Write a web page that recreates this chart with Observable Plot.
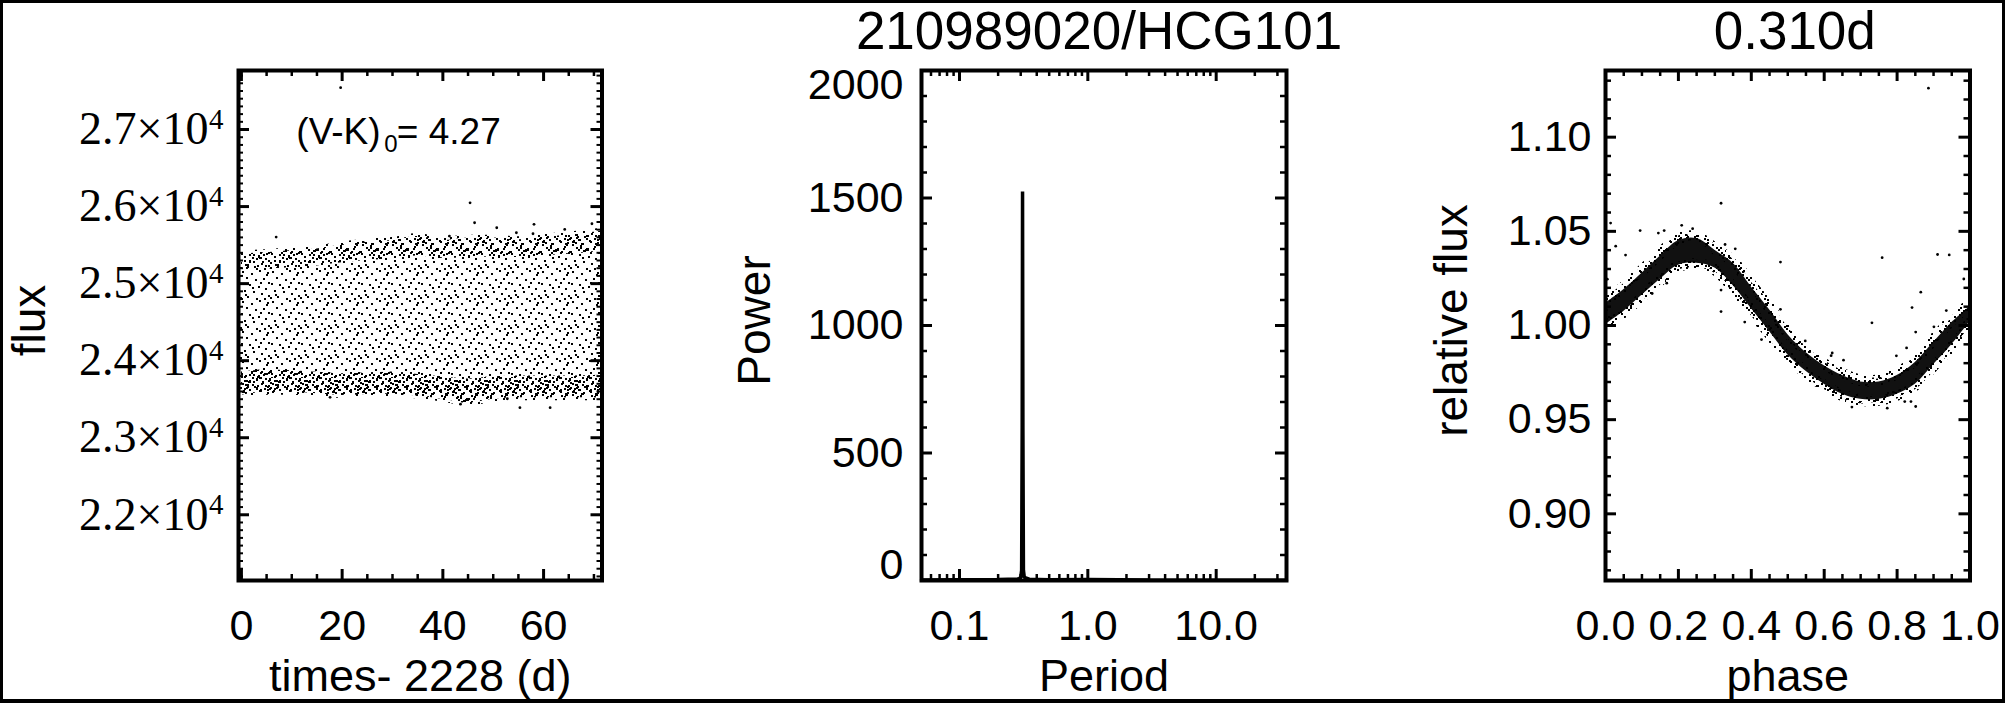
<!DOCTYPE html>
<html>
<head>
<meta charset="utf-8">
<script src="https://cdn.jsdelivr.net/npm/d3@7"></script>
<script src="https://cdn.jsdelivr.net/npm/@observablehq/plot@0.6"></script>
<style>
  html, body { margin: 0; padding: 0; background: #fff; }
  #wrap { position: relative; width: 2005px; height: 703px; overflow: hidden; background: #fff; }
  #wrap > svg.plot { position: absolute; left: 0; top: 0; }
  #border { position: absolute; left: 0; top: 0; width: 2005px; height: 703px; box-sizing: border-box;
            border: 3px solid #000; border-bottom-width: 4px; pointer-events: none; z-index: 10; }
</style>
</head>
<body>
<div id="wrap">
  <svg id="defs" width="0" height="0" style="position:absolute;left:0;top:0"></svg>
  <div id="border"></div>
</div>
<script>
// ---------------- DATA ----------------
// Panel 1: light curve, flux vs (time - 2228 d). The dense scatter band is described by its
// envelopes (outer edges and the inner edges of the dense stripes).
const lcTime      = [0, 5, 10, 15, 20, 25, 30, 35, 40, 45, 50, 55, 60, 65, 71.6];
const lcTop       = [25390, 25400, 25430, 25450, 25500, 25540, 25560, 25610, 25560, 25590, 25590, 25570, 25600, 25630, 25680];
const lcTopDense  = [25180, 25190, 25210, 25230, 25270, 25300, 25320, 25360, 25330, 25340, 25350, 25340, 25360, 25380, 25420];
const lcBotDense  = [23850, 23880, 23870, 23850, 23830, 23840, 23850, 23820, 23790, 23760, 23790, 23800, 23800, 23800, 23810];
const lcBot       = [23550, 23590, 23590, 23570, 23550, 23560, 23565, 23540, 23500, 23450, 23500, 23520, 23520, 23520, 23520];
const lcOutT      = [19.7, 45.4, 46.3, 6.9, 50.7, 54.6, 58.1, 41.3, 64.2, 69.6, 57.9, 55.3, 61.3, 43.5, 52.8, 17.6];
const lcOutFlux   = [27543, 26049, 25790, 25604, 25725, 25660, 25769, 25617, 25704, 25777, 25647, 23390, 23390, 23436, 23506, 23524];
const timeTicks   = [0, 20, 40, 60];
const fluxTicks   = [22000, 23000, 24000, 25000, 26000, 27000];

// Panel 2: periodogram (power vs period, log axis)
const pgPeriod = [0.0506, 0.1, 0.2, 0.29, 0.300, 0.305, 0.308, 0.310, 0.312, 0.315, 0.32, 0.35, 0.5, 1.0, 3, 10, 35.3];
const pgPower  = [2, 3, 4, 6, 12, 40, 600, 1525, 600, 40, 12, 5, 3, 4, 2, 1, 1];
const periodTicks = [0.1, 1, 10];
const powerTicks  = [500, 1000, 1500];

// Panel 3: phase-folded light curve (relative flux vs phase)
const phBand = [0, 0.05, 0.1, 0.15, 0.2, 0.25, 0.3, 0.35, 0.4, 0.45, 0.5, 0.55, 0.6, 0.65, 0.7, 0.75, 0.8, 0.85, 0.9, 0.95, 1.0];
const phLow  = [1.0005, 1.0075, 1.0160, 1.0245, 1.0320, 1.0330, 1.0305, 1.0212, 1.0090, 0.9968, 0.9845, 0.9757, 0.9688, 0.9635, 0.9608, 0.9608, 0.9635, 0.9688, 0.9792, 0.9898, 1.0020];
const phHigh = [1.0118, 1.0190, 1.0278, 1.0368, 1.0450, 1.0462, 1.0400, 1.0330, 1.0205, 1.0084, 0.9952, 0.9856, 0.9786, 0.9734, 0.9700, 0.9700, 0.9734, 0.9804, 0.9910, 1.0015, 1.0100];
const phOutPhase = [0.014, 0.028, 0.055, 0.095, 0.145, 0.161, 0.128, 0.168, 0.209, 0.239, 0.317, 0.328, 0.356, 0.317, 0.317, 0.382, 0.428, 0.480, 0.480, 0.653, 0.622, 0.731, 0.759, 0.841, 0.851, 0.865, 0.911, 0.943, 0.983, 0.935, 0.901, 0.826, 0.798, 0.676, 0.773, 0.851, 0.619, 0.548, 0.886, 0.821, 0.838, 0.005];
const phOutFlux  = [1.0544, 1.0421, 1.0374, 1.0504, 1.0491, 1.0504, 1.0170, 1.0225, 1.0532, 1.0514, 1.0649, 1.0430, 1.0407, 1.0074, 1.0188, 1.0018, 0.9925, 1.0337, 1.0086, 0.9816, 0.9854, 1.0014, 1.0360, 1.0095, 0.9965, 1.0177, 1.0377, 1.0375, 1.0247, 1.0079, 0.9993, 0.9881, 0.9839, 0.9567, 0.9561, 0.9570, 0.9840, 0.9918, 1.1260, 0.9596, 0.9596, 1.0246];
const phaseTicks = [0, 0.2, 0.4, 0.6, 0.8, 1.0];
const relTicks   = [0.90, 0.95, 1.00, 1.05, 1.10];

const starName   = "210989020/HCG101";
const periodText = "0.310d";

// ---------------- STYLE / LAYOUT ----------------
const W = 2005, H = 703, TOP = 70, BOTTOM = 580, IH = BOTTOM - TOP;
const SANS = '"Liberation Sans", Arial, Helvetica, sans-serif';
const SERIF = '"Liberation Serif", "Times New Roman", serif';

// speckle patterns (texture for dense scatter)
const speck = [[2,1],[11,3],[19,0],[26,4],[6,7],[15,9],[23,8],[28,12],[1,13],[9,14],[18,16],[25,18],
               [4,20],[13,21],[21,23],[28,25],[7,26],[16,28],[0,27],[24,28],[12,17],[27,2],[5,24],[20,12]];
const patT = ["", "translate(9,5) rotate(90)", "translate(17,13) scale(-1,1)", "translate(4,19) rotate(-90)"];
document.getElementById("defs").innerHTML = "<defs>" + patT.map((t, k) =>
  `<pattern id="sp${k}" patternUnits="userSpaceOnUse" width="30" height="30"${t ? ` patternTransform="${t}"` : ""}>` +
  speck.map(([x, y]) => `<rect x="${x}" y="${y}" width="2" height="2" fill="#000"/>`).join("") +
  `</pattern>`).join("") + "</defs>";

function ticksX(vals, len, sw) {
  return [
    Plot.ruleX(vals, {x: d => d, insetTop: IH - len, stroke: "#000", strokeWidth: sw}),
    Plot.ruleX(vals, {x: d => d, insetBottom: IH - len, stroke: "#000", strokeWidth: sw})
  ];
}
function ticksY(vals, len, sw, iw) {
  return [
    Plot.ruleY(vals, {y: d => d, insetRight: iw - len, stroke: "#000", strokeWidth: sw}),
    Plot.ruleY(vals, {y: d => d, insetLeft: iw - len, stroke: "#000", strokeWidth: sw})
  ];
}
function yTitle(label, dx) {
  return Plot.text([label], {text: d => d, frameAnchor: "left", dx, dy: -5, rotate: -90,
    lineAnchor: "bottom", textAnchor: "middle", fontSize: 46, fontFamily: SANS, fill: "#000"});
}
function xTitle(label) {
  return Plot.text([label], {text: d => d, frameAnchor: "bottom", dy: 110, lineAnchor: "bottom",
    textAnchor: "middle", fontSize: 45, fontFamily: SANS, fill: "#000"});
}
function panel(left, right, x, y, marks) {
  return Plot.plot({
    width: W, height: H,
    marginLeft: left, marginRight: W - right, marginTop: TOP, marginBottom: H - BOTTOM,
    x, y,
    style: {background: "transparent", fontFamily: SANS, fontSize: "43px", color: "#000", overflow: "visible"},
    marks
  });
}

// ---------------- PANEL 1 ----------------
const lcRows = lcTime.map((t, i) => ({t, top: lcTop[i], topD: lcTopDense[i], botD: lcBotDense[i], bot: lcBot[i]}));
const lcOut = lcOutT.map((t, i) => ({t, f: lcOutFlux[i]}));
const L1 = 238, R1 = 601.5;
const p1 = panel(L1, R1,
  {type: "linear", domain: [-0.58, 71.6]},
  {type: "linear", domain: [21147, 27766]},
  [
    Plot.areaY(lcRows, {x: "t", y1: "bot", y2: "top", fill: "url(#sp0)", stroke: "url(#sp0)", strokeWidth: 6, curve: "monotone-x", clip: true}),
    Plot.areaY(lcRows, {x: "t", y1: "topD", y2: "top", fill: "url(#sp1)", curve: "monotone-x", clip: true}),
    Plot.areaY(lcRows, {x: "t", y1: "topD", y2: "top", fill: "url(#sp2)", curve: "monotone-x", clip: true}),
    Plot.areaY(lcRows, {x: "t", y1: "bot", y2: "botD", fill: "url(#sp1)", curve: "monotone-x", clip: true}),
    Plot.areaY(lcRows, {x: "t", y1: "bot", y2: "botD", fill: "url(#sp2)", curve: "monotone-x", clip: true}),
    Plot.areaY(lcRows, {x: "t", y1: "bot", y2: "botD", fill: "url(#sp3)", curve: "monotone-x", clip: true}),
    Plot.dot(lcOut, {x: "t", y: "f", r: 1.4, fill: "#000"}),
    ...ticksX(timeTicks, 11, 3),
    ...ticksX(d3.range(5, 72, 5).filter(v => v % 20 !== 0), 6, 2.5),
    ...ticksY(fluxTicks, 11, 3, R1 - L1),
    ...ticksY(d3.range(21200, 27800, 100).filter(v => v % 1000 !== 0), 5, 2, R1 - L1),
    Plot.frame({stroke: "#000", strokeWidth: 4}),
    Plot.axisX(timeTicks, {tickSize: 0, tickPadding: 28.5, tickFormat: d => String(d), fontSize: 43, label: null}),
    Plot.axisY(fluxTicks, {tickSize: 0, tickPadding: 16, dx: -14, tickFormat: d => (d / 1e4).toFixed(1) + "×10",
      fontSize: 46, fontFamily: SERIF, label: null}),
    Plot.axisY(fluxTicks, {tickSize: 0, tickPadding: 15, dy: -10, tickFormat: () => "4",
      fontSize: 29, fontFamily: SERIF, label: null}),
    Plot.text(["(V-K)"], {x: 10.9, y: 26815, text: d => d, textAnchor: "start", lineAnchor: "bottom", fontSize: 37, fontFamily: SANS, fill: "#000"}),
    Plot.text(["0"], {x: 10.9, y: 26815, text: d => d, dx: 88, dy: 8.5, textAnchor: "start", lineAnchor: "bottom", fontSize: 24, fontFamily: SANS, fill: "#000"}),
    Plot.text(["= 4.27"], {x: 10.9, y: 26815, text: d => d, dx: 100.5, textAnchor: "start", lineAnchor: "bottom", fontSize: 37, fontFamily: SANS, fill: "#000"}),
    yTitle("flux", 44 - L1),
    xTitle("times- 2228 (d)")
  ]);

// ---------------- PANEL 2 ----------------
const pgRows = pgPeriod.map((p, i) => ({p, pow: pgPower[i]}));
const L2 = 921, R2 = 1286;
const logMinor = [0.06, 0.07, 0.08, 0.09, 0.2, 0.3, 0.4, 0.5, 0.6, 0.7, 0.8, 0.9, 2, 3, 4, 5, 6, 7, 8, 9, 20, 30];
const p2 = panel(L2, R2,
  {type: "log", domain: [0.0506, 35.3]},
  {type: "linear", domain: [0, 2000]},
  [
    Plot.line(pgRows, {x: "p", y: "pow", stroke: "#000", strokeWidth: 3.5, strokeLinejoin: "miter"}),
    ...ticksX(periodTicks, 11, 3),
    ...ticksX(logMinor, 6, 2.5),
    ...ticksY([0, 500, 1000, 1500, 2000], 11, 3, R2 - L2),
    ...ticksY(d3.range(100, 2000, 100).filter(v => v % 500 !== 0), 6, 2.5, R2 - L2),
    Plot.frame({stroke: "#000", strokeWidth: 4}),
    Plot.axisX(periodTicks, {tickSize: 0, tickPadding: 28.5, tickFormat: d => d.toFixed(1), fontSize: 43, label: null}),
    Plot.axisY(powerTicks, {tickSize: 0, tickPadding: 18, tickFormat: d => String(d), fontSize: 43, label: null}),
    Plot.axisY([2000], {tickSize: 0, tickPadding: 18, dy: 15, tickFormat: d => String(d), fontSize: 43, label: null}),
    Plot.axisY([0], {tickSize: 0, tickPadding: 18, dy: -15, tickFormat: d => String(d), fontSize: 43, label: null}),
    Plot.text([starName], {text: d => d, frameAnchor: "top", dx: -5, dy: 48 - TOP, lineAnchor: "bottom",
      textAnchor: "middle", fontSize: 53, fontFamily: SANS, fill: "#000"}),
    yTitle("Power", 769 - L2),
    xTitle("Period")
  ]);

// ---------------- PANEL 3 ----------------
const phRows = phBand.map((p, i) => ({p, lo: phLow[i], hi: phHigh[i]}));
const phOut = phOutPhase.map((p, i) => ({p, f: phOutFlux[i]}));
const L3 = 1605, R3 = 1969.5;
const p3 = panel(L3, R3,
  {type: "linear", domain: [0, 1]},
  {type: "linear", domain: [0.8646, 1.1354]},
  [
    Plot.areaY(phRows, {x: "p", y1: "lo", y2: "hi", fill: "none", stroke: "url(#sp2)", strokeWidth: 14, curve: "catmull-rom", clip: true}),
    Plot.areaY(phRows, {x: "p", y1: "lo", y2: "hi", fill: "#111", stroke: "url(#sp0)", strokeWidth: 9, curve: "catmull-rom", clip: true}),
    Plot.areaY(phRows, {x: "p", y1: "lo", y2: "hi", fill: "none", stroke: "url(#sp1)", strokeWidth: 6, curve: "catmull-rom", clip: true}),
    Plot.dot(phOut, {x: "p", y: "f", r: 1.4, fill: "#000"}),
    ...ticksX(phaseTicks, 11, 3),
    ...ticksX(d3.range(0.05, 1, 0.05).filter(v => Math.abs(v * 5 - Math.round(v * 5)) > 1e-6), 6, 2.5),
    ...ticksY(relTicks, 11, 3, R3 - L3),
    ...ticksY(d3.range(0.87, 1.135, 0.01).filter(v => Math.abs(v * 20 - Math.round(v * 20)) > 1e-6), 6, 2.5, R3 - L3),
    Plot.frame({stroke: "#000", strokeWidth: 4}),
    Plot.axisX(phaseTicks, {tickSize: 0, tickPadding: 28.5, tickFormat: d => d.toFixed(1), fontSize: 43, label: null}),
    Plot.axisY(relTicks, {tickSize: 0, tickPadding: 14, tickFormat: d => d.toFixed(2), fontSize: 43, label: null}),
    Plot.text([periodText], {text: d => d, frameAnchor: "top", dx: 7, dy: 48 - TOP, lineAnchor: "bottom",
      textAnchor: "middle", fontSize: 53, fontFamily: SANS, fill: "#000"}),
    yTitle("relative flux", 1466 - L3),
    xTitle("phase")
  ]);

const wrap = document.getElementById("wrap");
for (const s of [p1, p2, p3]) { s.classList.add("plot"); wrap.appendChild(s); }
</script>
</body>
</html>
